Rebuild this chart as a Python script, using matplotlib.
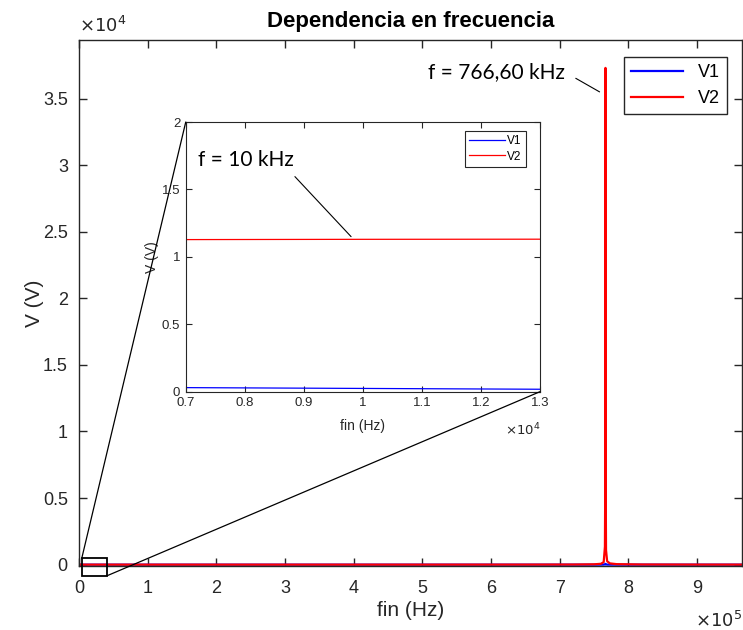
import matplotlib

matplotlib.use("Agg")
import matplotlib.pyplot as plt
from matplotlib.patches import Rectangle, ConnectionPatch
from matplotlib.ticker import FixedLocator, FuncFormatter

plt.rcParams["font.family"] = ["Liberation Sans", "DejaVu Sans"]

# barrido en frecuencia (Hz) y amplitudes V1, V2 (V)
fin = [0, 7000, 10000, 13000, 100000, 300000, 500000, 650000, 720000,
       750000, 760000, 764000, 765800, 766300, 766600, 766900, 767400,
       769000, 773000, 783000, 820000, 900000, 965000]
v1 = [0.035, 0.030, 0.024, 0.018, 0.01, 0.01, 0.02, 0.05, 0.2,
      0.6, 1.5, 5.0, 20.0, 45.0, 60.0, 45.0, 20.0, 4.0, 1.2, 0.4, 0.1, 0.05, 0.03]
v2 = [1.13, 1.128, 1.13, 1.131, 1.15, 1.33, 1.97, 4.1, 9.2,
      26.0, 65.0, 190.0, 1350.0, 6500.0, 37300.0, 6500.0, 1100.0, 260.0, 95.0, 38.0, 12.0, 4.5, 2.9]

f_pico = 766600
v_pico = 37300
f_ref = 10000
v_ref = 1.13

GRIS = "#262626"

fig = plt.figure(figsize=(7.43, 6.3), dpi=100)
ax = fig.add_axes([0.1063, 0.1016, 0.892, 0.835])

ax.plot(fin, v1, color="blue", lw=1.6, label="V1")
ax.plot(fin, v2, color="red", lw=1.6, label="V2")
ax.set_xlim(0, 965000)
ax.set_ylim(-100, 39400)
ax.xaxis.set_major_locator(FixedLocator([i * 1e5 for i in range(10)]))
ax.yaxis.set_major_locator(FixedLocator([i * 0.5e4 for i in range(8)]))
ax.xaxis.set_major_formatter(FuncFormatter(lambda v, p: f"{v / 1e5:g}"))
ax.yaxis.set_major_formatter(FuncFormatter(lambda v, p: f"{v / 1e4:g}"))
ax.tick_params(direction="in", length=6, width=1, labelsize=13,
               colors=GRIS, top=True, right=True)
ax.tick_params(axis="x", pad=10)
ax.tick_params(axis="y", pad=8)
for sp in ax.spines.values():
    sp.set_color(GRIS)
    sp.set_linewidth(1.0)
ax.set_xlabel("fin (Hz)", fontsize=15, color=GRIS, labelpad=3)
ax.set_ylabel("V (V)", fontsize=15, color=GRIS, labelpad=-1)
ax.set_title("Dependencia en frecuencia", fontsize=16, fontweight="bold", pad=9)
ax.text(0.0, 1.008, r"$\times10^4$", transform=ax.transAxes, fontsize=13,
        color=GRIS, ha="left", va="bottom")
ax.text(1.0, -0.085, r"$\times10^5$", transform=ax.transAxes, fontsize=13,
        color=GRIS, ha="right", va="top")

leg = ax.legend(loc="upper right", fontsize=13, handlelength=2.9,
                bbox_to_anchor=(0.9775, 0.968), borderaxespad=0,
                fancybox=False, framealpha=1, edgecolor=GRIS)
leg.get_frame().set_linewidth(1.0)

ax.annotate("f = 766,60 kHz", xy=(758000, 35500),
            xytext=(707000, 37000), fontsize=15,
            family=["Lato", "DejaVu Sans"], ha="right", va="center",
            arrowprops=dict(arrowstyle="-", color="black", lw=0.8,
                            relpos=(1.0, 0.5), shrinkA=7, shrinkB=0))

# recuadro de la zona ampliada
rect = Rectangle((4000, -830), 37000, 1300, fill=False, ec="black",
                 lw=1.3, clip_on=False, zorder=5)
ax.add_patch(rect)

# ampliacion
axi = fig.add_axes([0.25, 0.3783, 0.4768, 0.428])
axi.plot(fin, v1, color="blue", lw=0.9, label="V1")
axi.plot(fin, v2, color="red", lw=0.9, label="V2")
axi.set_xlim(7000, 13000)
axi.set_ylim(0, 2)
axi.xaxis.set_major_locator(FixedLocator([7000 + i * 1000 for i in range(7)]))
axi.yaxis.set_major_locator(FixedLocator([0, 0.5, 1, 1.5, 2]))
axi.xaxis.set_major_formatter(FuncFormatter(lambda v, p: f"{v / 1e4:g}"))
axi.yaxis.set_major_formatter(FuncFormatter(lambda v, p: f"{v:g}"))
axi.tick_params(direction="in", length=4, width=0.8, labelsize=9.5,
                colors=GRIS, top=True, right=True, pad=4)
for sp in axi.spines.values():
    sp.set_color(GRIS)
    sp.set_linewidth(0.8)
axi.set_xlabel("fin (Hz)", fontsize=10, color=GRIS, labelpad=7)
axi.set_ylabel("V (V)", fontsize=10, color=GRIS, labelpad=2)
axi.text(1.0, -0.11, r"$\times10^4$", transform=axi.transAxes, fontsize=9.5,
         color=GRIS, ha="right", va="top")
legi = axi.legend(loc="upper right", fontsize=8.5, handlelength=3.0,
                  bbox_to_anchor=(0.96, 0.967), borderaxespad=0,
                  handletextpad=0.2, borderpad=0.35, labelspacing=0.3,
                  fancybox=False, framealpha=1, edgecolor=GRIS)
legi.get_frame().set_linewidth(0.8)
axi.annotate("f = 10 kHz", xy=(f_ref - 200, v_ref + 0.02),
             xytext=(7200, 1.72), fontsize=15,
             family=["Lato", "DejaVu Sans"], ha="left", va="center",
             arrowprops=dict(arrowstyle="-", color="black", lw=0.8,
                             relpos=(0.95, 0.0), shrinkA=4, shrinkB=0))

# lineas que unen el recuadro con la ampliacion
for xa, ya, xb, yb in [(4000, 470, 0, 1), (41000, -830, 1, 0)]:
    cp = ConnectionPatch(xyA=(xa, ya), coordsA=ax.transData,
                         xyB=(xb, yb), coordsB=axi.transAxes,
                         color="black", lw=0.9, zorder=6)
    fig.add_artist(cp)

fig.savefig("out.png", dpi=100)
